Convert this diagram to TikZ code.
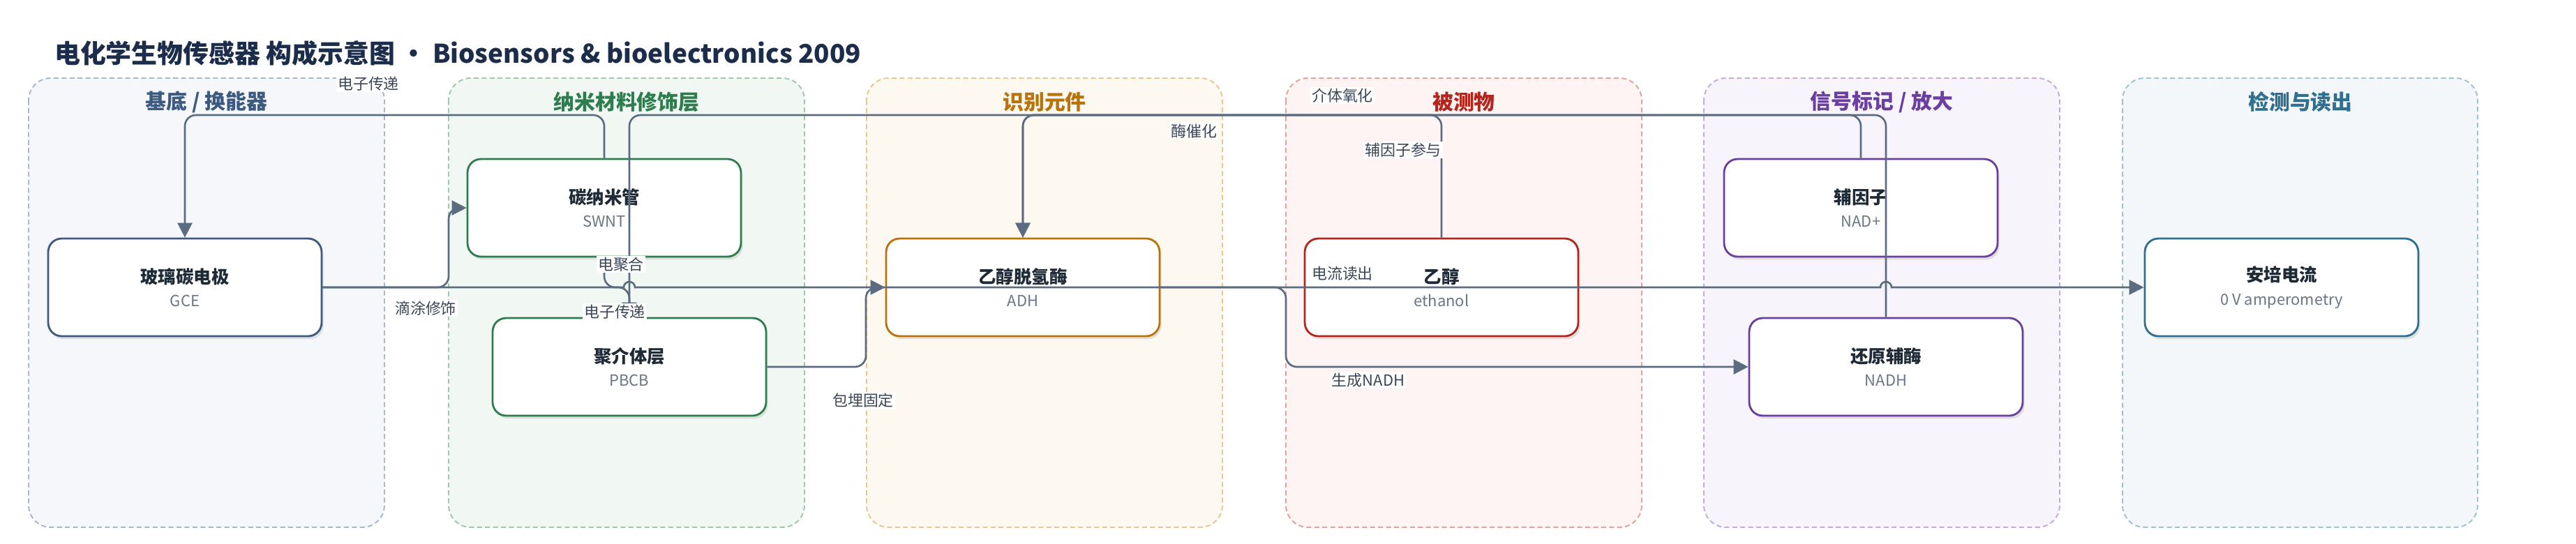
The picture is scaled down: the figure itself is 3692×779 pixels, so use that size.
\documentclass[tikz,border=0pt]{standalone}
\usepackage{fontspec}
\setmainfont{Noto Sans CJK SC}
\usetikzlibrary{arrows.meta,shadows,calc,positioning}

% colours
\definecolor{edgec}{HTML}{5B6B80}
\definecolor{lblc}{HTML}{3B4656}
\definecolor{titlec}{HTML}{1B2D4A}
\definecolor{inkc}{HTML}{1E2A36}
\definecolor{subc}{HTML}{6B7684}
\definecolor{laAf}{HTML}{F5F7FB}\definecolor{laAd}{HTML}{A9B7CC}\definecolor{laAt}{HTML}{3D5A80}
\definecolor{laBf}{HTML}{F1F8F3}\definecolor{laBd}{HTML}{9DC8AB}\definecolor{laBt}{HTML}{2E7D4F}
\definecolor{laCf}{HTML}{FEF9F0}\definecolor{laCd}{HTML}{E8C68E}\definecolor{laCt}{HTML}{B8740A}
\definecolor{laDf}{HTML}{FDF4F3}\definecolor{laDd}{HTML}{E6A09B}\definecolor{laDt}{HTML}{B3261E}
\definecolor{laEf}{HTML}{F7F4FB}\definecolor{laEd}{HTML}{C3ABDF}\definecolor{laEt}{HTML}{6B3FA0}
\definecolor{laFf}{HTML}{F3F7F9}\definecolor{laFd}{HTML}{9FC2D0}\definecolor{laFt}{HTML}{2F6F8F}

\newcommand{\ntitle}[1]{{\fontsize{14.5}{18}\selectfont\bfseries\color{inkc}#1}}
\newcommand{\nsub}[1]{{\fontsize{12.5}{19}\selectfont\color{subc}#1}}

\begin{document}
\begin{tikzpicture}[x=0.02cm,y=-0.02cm,
    lane/.style={draw=#1, dash pattern=on 4pt off 2.5pt, line width=1.1pt, rounded corners=18pt},
    lanett/.style={font=\fontsize{17}{20}\selectfont\bfseries, text=#1},
    blk/.style={draw=#1, line width=1.6pt, fill=white, rounded corners=11pt,
                minimum width=7.84cm, minimum height=2.8cm, align=center, inner sep=0pt,
                font=\fontsize{12.5}{19}\selectfont,
                drop shadow={shadow xshift=1.5pt, shadow yshift=-2.5pt, opacity=.2}},
    flow/.style={draw=edgec, line width=1.5pt, rounded corners=9pt},
    arr/.style={flow, -{Triangle[length=12pt,width=12pt]}},
    elbl/.style={fill=white, inner sep=1pt, text=lblc, font=\fontsize{12.5}{14}\selectfont}
  ]

  \useasboundingbox (0,0) rectangle (3692,779);

  % title
  \node[anchor=west, text=titlec, font=\fontsize{21}{24}\selectfont\bfseries] (ttl) at (72,76)
    {电化学生物传感器 构成示意图 • Biosensors \& bioelectronics 2009};

  % lanes
  \draw[lane=laAd, fill=laAf] (41,112) rectangle (551,756);
  \draw[lane=laBd, fill=laBf] (643,112) rectangle (1153,756);
  \draw[lane=laCd, fill=laCf] (1242,112) rectangle (1752,756);
  \draw[lane=laDd, fill=laDf] (1843,112) rectangle (2353,756);
  \draw[lane=laEd, fill=laEf] (2442,112) rectangle (2952,756);
  \draw[lane=laFd, fill=laFf] (3042,112) rectangle (3551,756);

  \node[lanett=laAt] (tA) at (296,146) {基底 / 换能器};
  \node[lanett=laBt] (tB) at (898,146) {纳米材料修饰层};
  \node[lanett=laCt] (tC) at (1497,146) {识别元件};
  \node[lanett=laDt] (tD) at (2098,146) {被测物};
  \node[lanett=laEt] (tE) at (2697,146) {信号标记 / 放大};
  \node[lanett=laFt] (tF) at (3297,146) {检测与读出};

  % blocks
  \node[blk=laAt] (gce)  at (265,412)  {\ntitle{玻璃碳电极}\\\nsub{GCE}};
  \node[blk=laBt] (swnt) at (866,298)  {\ntitle{碳纳米管}\\\nsub{SWNT}};
  \node[blk=laBt] (pbcb) at (902,526)  {\ntitle{聚介体层}\\\nsub{PBCB}};
  \node[blk=laCt] (adh)  at (1466,412) {\ntitle{乙醇脱氢酶}\\\nsub{ADH}};
  \node[blk=laDt] (eth)  at (2066,412) {\ntitle{乙醇}\\\nsub{ethanol}};
  \node[blk=laEt] (nadp) at (2667,298) {\ntitle{辅因子}\\\nsub{NAD+}};
  \node[blk=laEt] (nadh) at (2703,526) {\ntitle{还原辅酶}\\\nsub{NADH}};
  \node[blk=laFt] (amp)  at (3270,412) {\ntitle{安培电流}\\\nsub{0 V amperometry}};

  % upper bus
  \coordinate (bus) at (0,165);

  % connectors
  \draw[arr] (gce.east) -| (643,298) -- (swnt.west);
  \draw[arr] (swnt.north) |- (gce.north |- bus) -- (gce.north);
  \draw[arr] (pbcb.north) -- (902,412) -- (866,412) -- (swnt.south);
  \draw[arr] (pbcb.east) -| (1241,412) -- (adh.west);
  \draw[arr] (eth.north) |- (adh.north |- bus) -- (adh.north);
  \draw[arr] (nadp.north) |- (adh.north |- bus) -- (adh.north);
  \draw[arr] (adh.east) -| (1843,526) -- (nadh.west);
  \draw[arr] (nadh.north) |- (pbcb.north |- bus) -- (pbcb.north);
  % straight read-out line, hopping over the two verticals
  \draw[arr, sharp corners] (gce.east) -- (894,412) arc[start angle=180, end angle=360, radius=8]
    -- (2695,412) arc[start angle=180, end angle=360, radius=8] -- (amp.west);

  % connector labels
  \node[elbl] (lbA) at (528,120)  {电子传递};
  \node[elbl] (lbB) at (610,442)  {滴涂修饰};
  \node[elbl] (lbC) at (890,379)  {电聚合};
  \node[elbl] (lbD) at (881,447)  {电子传递};
  \node[elbl] (lbE) at (1237,574) {包埋固定};
  \node[elbl] (lbF) at (1711,188) {酶催化};
  \node[elbl] (lbG) at (1924,137) {介体氧化};
  \node[elbl] (lbH) at (2011,215) {辅因子参与};
  \node[elbl] (lbI) at (1924,392) {电流读出};
  \node[elbl] (lbJ) at (1961,545) {生成NADH};

\end{tikzpicture}
\end{document}
